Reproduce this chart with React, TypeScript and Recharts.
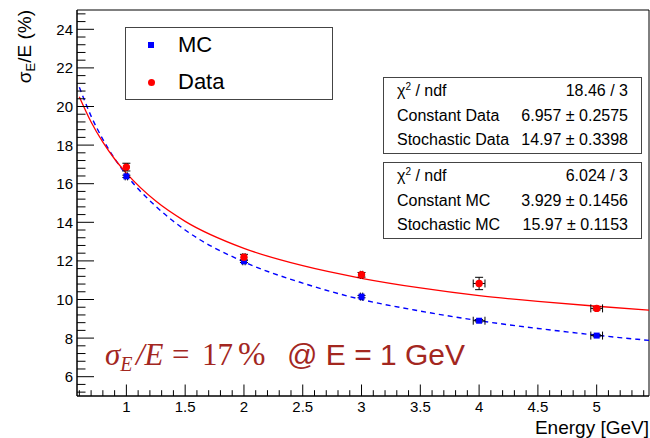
import {
  ComposedChart,
  Scatter,
  Line,
  XAxis,
  YAxis,
  ErrorBar,
  ReferenceArea,
} from 'recharts';

// measured points (energy in GeV, resolution in %)
const energies = [1, 2, 3, 4, 5];
const mcValues = [16.38, 11.98, 10.15, 8.9, 8.13];
const mcErrY = [0.06, 0.06, 0.06, 0.06, 0.06];
const dataValues = [16.86, 12.19, 11.28, 10.83, 9.54];
const dataErrY = [0.2, 0.15, 0.12, 0.32, 0.08];
const errX = [0.01, 0.01, 0.01, 0.05, 0.05];

// fit curves
const curveE = [0.6, 0.7, 0.8, 0.9, 1, 1.25, 1.5, 2, 2.5, 3, 3.5, 4, 4.5, 5, 5.445];
const dataFit = [20.5, 19.2, 18.15, 17.28, 16.55, 15.1, 14.05, 12.65, 11.75, 11.1, 10.6, 10.2, 9.9, 9.65, 9.45];
const mcFit = [21.0, 19.5, 18.3, 17.3, 16.45, 14.83, 13.6, 11.95, 10.85, 10.0, 9.4, 8.9, 8.5, 8.15, 7.88];

const xMajor = [1, 1.5, 2, 2.5, 3, 3.5, 4, 4.5, 5];
const yMajor = [6, 8, 10, 12, 14, 16, 18, 20, 22, 24];

const mcStats = [
  ['χ2 / ndf', '6.024 / 3'],
  ['Constant MC', '3.929 ± 0.1456'],
  ['Stochastic MC', '15.97 ± 0.1153'],
];
const dataStats = [
  ['χ2 / ndf', '18.46 / 3'],
  ['Constant Data', '6.957 ± 0.2575'],
  ['Stochastic Data', '14.97 ± 0.3398'],
];

const X_DOMAIN: [number, number] = [0.58, 5.445];
const Y_DOMAIN: [number, number] = [5, 25];
const PLOT_LEFT = 77;
const PLOT_BOTTOM = 396;
const FONT = '"Liberation Sans", Arial, sans-serif';
const SERIF = '"Liberation Serif", "Times New Roman", serif';
const ANNOT = '#a3271f';

// minor ticks: 0.1 GeV on x, 0.4 % on y
const xTicks: number[] = [];
for (let i = 6; i <= 54; i++) xTicks.push(i / 10);
const yTicks: number[] = [];
for (let k = 13; k <= 62; k++) yTicks.push(Math.round(k * 4) / 10);

const isMajor = (list: number[], v: number) => list.some((m) => Math.abs(m - v) < 1e-6);

const mcPoints = energies.map((e, i) => ({ x: e, y: mcValues[i], ex: errX[i], ey: mcErrY[i] }));
const dataPoints = energies.map((e, i) => ({ x: e, y: dataValues[i], ex: errX[i], ey: dataErrY[i] }));
const dataCurve = curveE.map((e, i) => ({ x: e, y: dataFit[i] }));
const mcCurve = curveE.map((e, i) => ({ x: e, y: mcFit[i] }));

const XTick = (props: any) => {
  const { x, payload } = props;
  const major = isMajor(xMajor, payload.value);
  return (
    <g>
      <line x1={x} x2={x} y1={PLOT_BOTTOM} y2={PLOT_BOTTOM - (major ? 11.5 : 5.8)} stroke="#000" strokeWidth={1} />
      {major && (
        <text x={x} y={PLOT_BOTTOM + 16} textAnchor="middle" fontSize={15} fontFamily={FONT} fill="#000">
          {payload.value}
        </text>
      )}
    </g>
  );
};

const YTick = (props: any) => {
  const { y, payload } = props;
  const major = isMajor(yMajor, payload.value);
  return (
    <g>
      <line x1={PLOT_LEFT} x2={PLOT_LEFT + (major ? 17 : 8.5)} y1={y} y2={y} stroke="#000" strokeWidth={1} />
      {major && (
        <text x={PLOT_LEFT - 4} y={y + 5.4} textAnchor="end" fontSize={15} fontFamily={FONT} fill="#000">
          {payload.value}
        </text>
      )}
    </g>
  );
};

const squareShape = (p: any) => <rect x={p.cx - 3} y={p.cy - 3} width={6} height={6} fill="#0000ff" />;
const circleShape = (p: any) => <circle cx={p.cx} cy={p.cy} r={3.7} fill="#ff0000" />;

function StatBox({ top, rows }: { top: number; rows: string[][] }) {
  return (
    <div
      style={{
        position: 'absolute',
        left: 383,
        top,
        width: 259,
        boxSizing: 'border-box',
        border: '1.5px solid #444',
        background: '#fff',
        padding: '1px 13px 0px 13px',
        fontFamily: FONT,
        fontSize: 16,
        color: '#000',
      }}
    >
      {rows.map(([k, v], i) => (
        <div key={i} style={{ display: 'flex', justifyContent: 'space-between', height: 24.5, lineHeight: '24.5px', whiteSpace: 'nowrap' }}>
          <span>
            {k.startsWith('χ2') ? (
              <>
                χ<sup style={{ fontSize: 10, lineHeight: 0 }}>2</sup>
                {k.slice(2)}
              </>
            ) : (
              k
            )}
          </span>
          <span>{v}</span>
        </div>
      ))}
    </div>
  );
}

export default function App() {
  return (
    <div style={{ position: 'absolute', left: 0, top: 0, width: 650, height: 438, background: '#fff' }}>
      <ComposedChart width={650} height={438} margin={{ top: 10, right: 1, left: 0, bottom: 0 }}>
        <XAxis
          type="number"
          dataKey="x"
          domain={X_DOMAIN}
          allowDataOverflow
          ticks={xTicks}
          interval={0}
          tick={<XTick />}
          tickLine={false}
          axisLine={{ stroke: '#000' }}
          height={42}
        />
        <YAxis
          type="number"
          domain={Y_DOMAIN}
          allowDataOverflow
          ticks={yTicks}
          interval={0}
          tick={<YTick />}
          tickLine={false}
          axisLine={{ stroke: '#000' }}
          width={77}
        />
        <ReferenceArea x1={X_DOMAIN[0]} x2={X_DOMAIN[1]} y1={Y_DOMAIN[0]} y2={Y_DOMAIN[1]} fill="none" stroke="#000" strokeWidth={1} ifOverflow="visible" />
        <Line data={mcCurve} dataKey="y" type="monotone" stroke="#0000ff" strokeWidth={1.4} strokeDasharray="5 4" dot={false} isAnimationActive={false} />
        <Line data={dataCurve} dataKey="y" type="monotone" stroke="#ff0000" strokeWidth={1.3} dot={false} isAnimationActive={false} />
        <Scatter data={mcPoints} dataKey="y" shape={squareShape} isAnimationActive={false}>
          <ErrorBar dataKey="ey" direction="y" width={4} stroke="#000" strokeWidth={1} />
          <ErrorBar dataKey="ex" direction="x" width={4} stroke="#000" strokeWidth={1} />
        </Scatter>
        <Scatter data={dataPoints} dataKey="y" shape={circleShape} isAnimationActive={false}>
          <ErrorBar dataKey="ey" direction="y" width={4} stroke="#000" strokeWidth={1} />
          <ErrorBar dataKey="ex" direction="x" width={4} stroke="#000" strokeWidth={1} />
        </Scatter>
      </ComposedChart>

      {/* legend */}
      <div style={{ position: 'absolute', left: 125, top: 27, width: 208, height: 73, boxSizing: 'border-box', border: '1.5px solid #444', background: '#fff' }} />
      <div style={{ position: 'absolute', left: 148, top: 42, width: 6, height: 6, background: '#0000ff' }} />
      <div style={{ position: 'absolute', left: 147.5, top: 78.5, width: 7, height: 7, borderRadius: '50%', background: '#ff0000' }} />
      <div style={{ position: 'absolute', left: 178, top: 33, fontFamily: FONT, fontSize: 22, lineHeight: '24px' }}>MC</div>
      <div style={{ position: 'absolute', left: 178, top: 70, fontFamily: FONT, fontSize: 22, lineHeight: '24px' }}>Data</div>

      <StatBox top={77} rows={dataStats} />
      <StatBox top={162} rows={mcStats} />

      <svg width={650} height={438} style={{ position: 'absolute', left: 0, top: 0, pointerEvents: 'none' }}>
        <text transform="rotate(-90 31 10)" x={31} y={10} textAnchor="end" fontSize={19} fontFamily={FONT} fill="#000">
          σ<tspan fontSize={13} dy={4}>E</tspan>
          <tspan dy={-4}>/E (%)</tspan>
        </text>
        <text x={649} y={434} textAnchor="end" fontSize={19} fontFamily={FONT} fill="#000">
          Energy [GeV]
        </text>
        <text y={365} fontSize={31} fill={ANNOT}>
          <tspan x={105} fontFamily={SERIF} fontStyle="italic">σ</tspan>
          <tspan fontFamily={SERIF} fontStyle="italic" fontSize={20} dy={6}>E</tspan>
          <tspan x={136} dy={-6} fontFamily={SERIF} fontStyle="italic">/E</tspan>
          <tspan x={172} fontFamily={SERIF}>=</tspan>
          <tspan x={202} fontFamily={SERIF}>17</tspan>
          <tspan x={238} fontFamily={SERIF} fontSize={33}>%</tspan>
          <tspan x={287} fontFamily={FONT} fontSize={30}>@ E = 1 GeV</tspan>
        </text>
      </svg>
    </div>
  );
}
